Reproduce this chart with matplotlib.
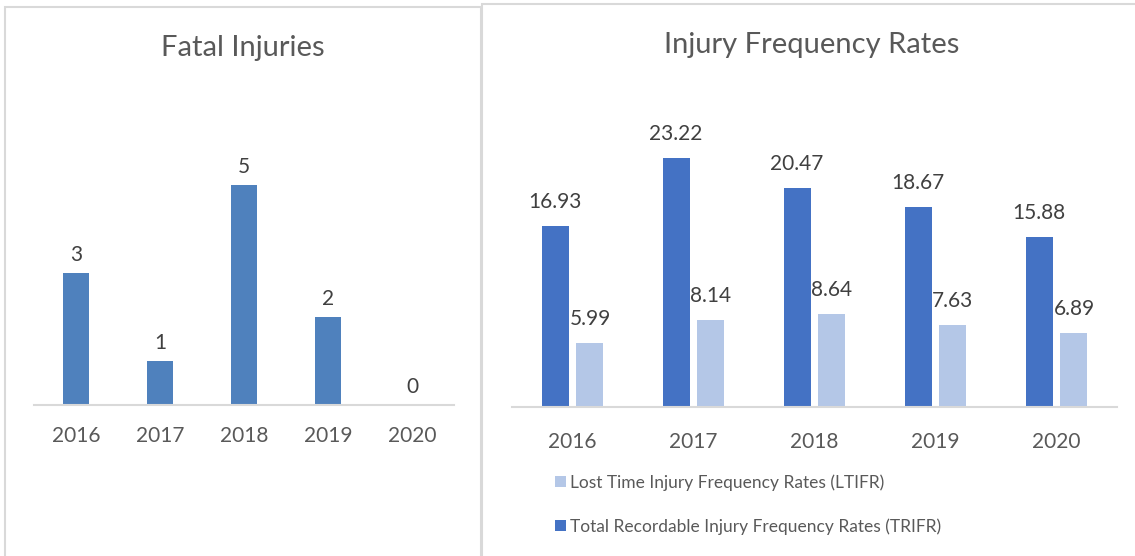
import matplotlib.pyplot as plt
from matplotlib.patches import Rectangle

plt.rcParams['font.family'] = ['Lato', 'DejaVu Sans']

# datos
years = ['2016', '2017', '2018', '2019', '2020']
fatal = [3, 1, 5, 2, 0]
ltifr = [5.99, 8.14, 8.64, 7.63, 6.89]
trifr = [16.93, 23.22, 20.47, 18.67, 15.88]

W, H = 1135, 556
fig = plt.figure(figsize=(W / 100, H / 100), dpi=100)

def px(x0, y0, x1, y1):
    # caja en pixeles (desde arriba) -> coordenadas de figura
    return [x0 / W, 1 - y1 / H, (x1 - x0) / W, (y1 - y0) / H]

# marcos de los dos graficos
fig.patches.append(Rectangle((5 / W, -0.1), 476 / W, 1.1 - 7 / H, transform=fig.transFigure,
                             fill=False, edgecolor='#d9d9d9', lw=1.5))
fig.patches.append(Rectangle((482 / W, -0.1), 700 / W, 1.1 - 4 / H, transform=fig.transFigure,
                             fill=False, edgecolor='#d9d9d9', lw=1.5))

label_col = '#404040'
tick_col = '#595959'

# --- Fatal Injuries ---
ax1 = fig.add_axes(px(34, 141, 454, 405))
x = list(range(len(years)))
ax1.bar(x, fatal, width=0.31, color='#4f81bd')
for xi, v in zip(x, fatal):
    ax1.annotate(str(v), (xi, v), xytext=(0, 18), textcoords='offset pixels',
                 ha='center', va='center', fontsize=15, color=label_col)
ax1.set_xlim(-0.5, 4.5)
ax1.set_ylim(0, 6)
ax1.set_xticks(x)
ax1.set_xticklabels(years, fontsize=15, color=tick_col)
ax1.tick_params(axis='x', length=0, pad=15)
ax1.set_yticks([])
for s in ['top', 'right', 'left']:
    ax1.spines[s].set_visible(False)
ax1.spines['bottom'].set_color('#d9d9d9')
ax1.spines['bottom'].set_linewidth(1.5)
fig.text(243 / W, 1 - 48 / H, 'Fatal Injuries', ha='center', va='center',
         fontsize=21, color=tick_col)

# --- Injury Frequency Rates ---
ax2 = fig.add_axes(px(512, 139, 1117, 407))
w = 0.223
off = 0.033 + w / 2
b1 = ax2.bar([i - off for i in x], trifr, width=w, color='#4472c4',
             label='Total Recordable Injury Frequency Rates (TRIFR)')
b2 = ax2.bar([i + off for i in x], ltifr, width=w, color='#b4c7e7',
             label='Lost Time Injury Frequency Rates (LTIFR)')
for i in x:
    ax2.annotate(f'{trifr[i]:.2f}', (i - off, trifr[i]), xytext=(0, 24), textcoords='offset pixels',
                 ha='center', va='center', fontsize=15, color=label_col)
    ax2.annotate(f'{ltifr[i]:.2f}', (i + off, ltifr[i]), xytext=(0, 24), textcoords='offset pixels',
                 ha='center', va='center', fontsize=15, color=label_col)
ax2.set_xlim(-0.5, 4.5)
ax2.set_ylim(0, 25)
ax2.set_xticks(x)
ax2.set_xticklabels(years, fontsize=15, color=tick_col)
ax2.tick_params(axis='x', length=0, pad=18)
ax2.set_yticks([])
for s in ['top', 'right', 'left']:
    ax2.spines[s].set_visible(False)
ax2.spines['bottom'].set_color('#d9d9d9')
ax2.spines['bottom'].set_linewidth(1.5)
fig.text(812 / W, 1 - 45 / H, 'Injury Frequency Rates', ha='center', va='center',
         fontsize=21, color=tick_col)

leg = fig.legend([b2, b1], [b2.get_label(), b1.get_label()], loc='upper left',
                 bbox_to_anchor=(555 / W, 1 - 474 / H), frameon=False, fontsize=12.5,
                 handlelength=0.62, handleheight=0.62, handletextpad=0.25, labelspacing=1.6,
                 borderpad=0, borderaxespad=0, labelcolor=tick_col)

fig.savefig('out.png', dpi=100)
